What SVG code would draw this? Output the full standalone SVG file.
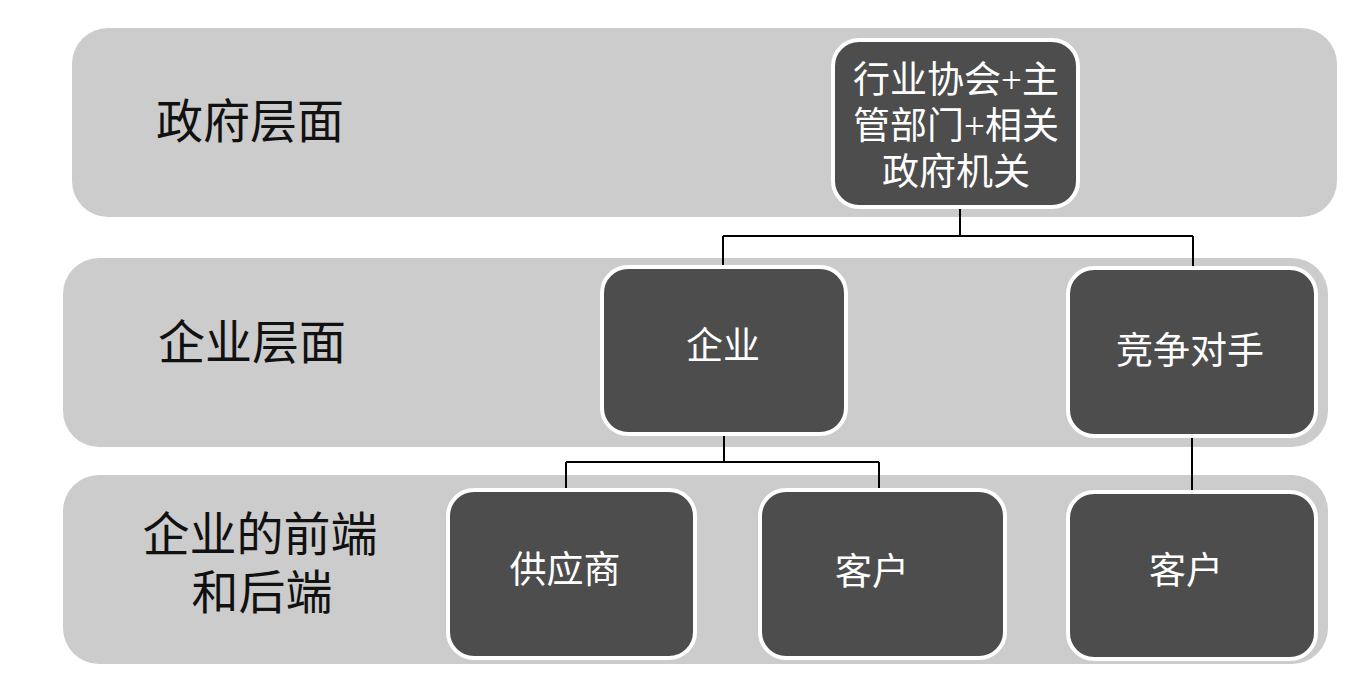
<svg xmlns="http://www.w3.org/2000/svg" width="1362" height="684" viewBox="0 0 1362 684">
<style>
.band{fill:#cccccc}
.node{fill:#4d4d4d;stroke:#ffffff;stroke-width:4}
.lbl{font-family:"Liberation Serif","Noto Sans CJK SC",serif;font-size:47px;fill:#111111;text-anchor:middle;dominant-baseline:central}
.ntx{font-family:"Liberation Serif","Noto Sans CJK SC",serif;font-size:37px;fill:#ffffff;text-anchor:middle;dominant-baseline:central}
.conn{fill:none;stroke:#000000;stroke-width:2}
</style>
<rect width="1362" height="684" fill="#ffffff"/>
<g id="bands">
<rect class="band" x="72" y="28" width="1265" height="189" rx="36"/>
<rect class="band" x="63" y="258" width="1265" height="189" rx="36"/>
<rect class="band" x="63" y="475" width="1265" height="189" rx="36"/>
<text class="lbl" x="250" y="122">政府层面</text>
<text class="lbl" x="252" y="343">企业层面</text>
<text class="lbl" x="260" y="535">企业的前端</text>
<text class="lbl" x="262" y="593">和后端</text>
</g>
<g id="connectors">
<path class="conn" d="M960 208 V236 M723 236 H1193 M723 236 V266 M1193 236 V267"/>
<path class="conn" d="M724 434 V462 M566 462 H879 M566 462 V489 M879 462 V489"/>
<path class="conn" d="M1192 437 V491"/>
</g>
<g id="n-gov">
<rect class="node" x="833" y="40" width="245" height="167" rx="26"/>
<text class="ntx" x="956" y="80">行业协会+主</text>
<text class="ntx" x="956" y="126">管部门+相关</text>
<text class="ntx" x="956" y="172">政府机关</text>
</g>
<g id="n-firm">
<rect class="node" x="602" y="267" width="244" height="167" rx="26"/>
<text class="ntx" x="723" y="346">企业</text>
</g>
<g id="n-comp">
<rect class="node" x="1068" y="268" width="248" height="168" rx="26"/>
<text class="ntx" x="1190" y="351">竞争对手</text>
</g>
<g id="n-supp">
<rect class="node" x="448" y="490" width="247" height="168" rx="26"/>
<text class="ntx" x="565" y="570">供应商</text>
</g>
<g id="n-cust1">
<rect class="node" x="760" y="490" width="245" height="168" rx="26"/>
<text class="ntx" x="872" y="572">客户</text>
</g>
<g id="n-cust2">
<rect class="node" x="1068" y="492" width="248" height="167" rx="26"/>
<text class="ntx" x="1186" y="571">客户</text>
</g>
</svg>
